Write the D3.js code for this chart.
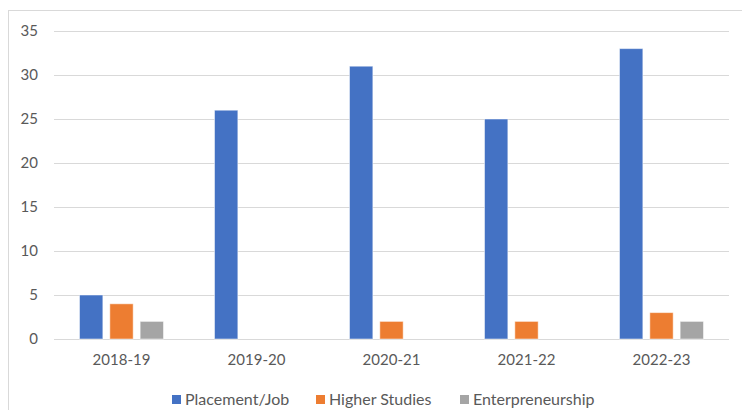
<!DOCTYPE html>
<html>
<head>
<meta charset="utf-8">
<script src="https://cdn.jsdelivr.net/npm/d3@7"></script>
<style>
  body { margin: 0; background: #fff; }
  svg { display: block; font-family: Lato, "Open Sans", sans-serif; }
</style>
</head>
<body>
<svg id="chart" width="742" height="410"></svg>
<script>
// chart data
var years = ["2018-19", "2019-20", "2020-21", "2021-22", "2022-23"];
var seriesNames = ["Placement/Job", "Higher Studies", "Enterpreneurship"];
var placement = [5, 26, 31, 25, 33];
var higherStudies = [4, 0, 2, 2, 3];
var entrepreneurship = [2, 0, 0, 0, 2];
var yTicks = [0, 5, 10, 15, 20, 25, 30, 35];
var colors = ["#4472C4", "#ED7D31", "#A5A5A5"];

var allSeries = [placement, higherStudies, entrepreneurship];

var svg = d3.select("#chart");

// outer chart frame (right / bottom edge run off the picture)
svg.append("rect")
    .attr("x", 8.5).attr("y", 10.5)
    .attr("width", 760).attr("height", 420)
    .attr("fill", "none")
    .attr("stroke", "#d9d9d9");

var plotLeft = 54, plotRight = 729, plotTop = 31, plotBottom = 339;

var x0 = d3.scaleBand().domain(years).range([plotLeft, plotRight]);
var x1 = d3.scaleBand().domain(seriesNames)
    .range([25.5, x0.bandwidth() - 25.5])
    .paddingInner(0.23);
var y = d3.scaleLinear().domain([0, 35]).range([plotBottom, plotTop]);

// gridlines
svg.append("g")
    .selectAll("line")
    .data(yTicks)
    .enter().append("line")
    .attr("x1", plotLeft).attr("x2", plotRight)
    .attr("y1", function(d) { return Math.round(y(d)) + 0.5; })
    .attr("y2", function(d) { return Math.round(y(d)) + 0.5; })
    .attr("stroke", "#d9d9d9")
    .attr("stroke-width", 1);

// y axis labels
var yAxis = d3.axisLeft(y).tickValues(yTicks).tickSize(0).tickPadding(0);
svg.append("g")
    .attr("transform", "translate(" + 38 + ",0)")
    .call(yAxis)
    .call(function(g) { g.select(".domain").remove(); })
    .selectAll("text")
    .attr("fill", "#595959")
    .style("font-size", "15px")
    .style("font-family", "Lato, sans-serif");

// bars
var groups = svg.append("g")
    .selectAll("g")
    .data(years)
    .enter().append("g")
    .attr("transform", function(d) { return "translate(" + x0(d) + ",0)"; });

groups.selectAll("rect")
    .data(function(d, i) {
        return seriesNames.map(function(s, k) {
            return { name: s, value: allSeries[k][i], color: colors[k] };
        });
    })
    .enter().append("rect")
    .filter(function(d) { return d.value > 0; })
    .attr("x", function(d) { return x1(d.name); })
    .attr("width", x1.bandwidth())
    .attr("y", function(d) { return y(d.value); })
    .attr("height", function(d) { return y(0) - y(d.value); })
    .attr("fill", function(d) { return d.color; })
    .attr("stroke", "#fff")
    .attr("stroke-opacity", 0.5)
    .attr("stroke-width", 1);

// x axis labels
var xAxis = d3.axisBottom(x0).tickSize(0).tickPadding(0);
svg.append("g")
    .attr("transform", "translate(0," + 354 + ")")
    .call(xAxis)
    .call(function(g) { g.select(".domain").remove(); })
    .selectAll("text")
    .attr("fill", "#595959")
    .style("font-size", "15px")
    .style("font-family", "Lato, sans-serif");

// legend
var legendX = [172, 316, 460];
var legend = svg.append("g")
    .selectAll("g")
    .data(seriesNames)
    .enter().append("g")
    .attr("transform", function(d, i) { return "translate(" + legendX[i] + "," + 395 + ")"; });

legend.append("rect")
    .attr("width", 9).attr("height", 9)
    .attr("fill", function(d, i) { return colors[i]; });

legend.append("text")
    .attr("x", 13).attr("y", 10)
    .attr("fill", "#595959")
    .style("font-size", "16px")
    .text(function(d) { return d; });
</script>
</body>
</html>
